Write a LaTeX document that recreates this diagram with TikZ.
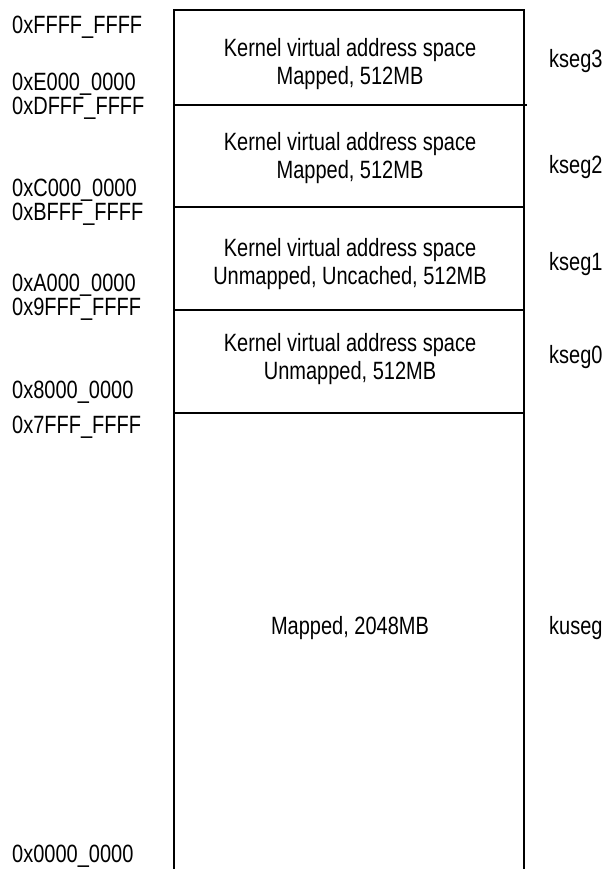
\documentclass[tikz,border=0pt]{standalone}
\usepackage{fontspec}
\setmainfont{Liberation Sans}[FakeStretch=0.8]
\begin{document}
\begin{tikzpicture}[x=1pt,y=-1pt,
  addr/.style={anchor=base west, inner sep=0pt, font=\fontsize{25}{28}\selectfont},
  seglbl/.style={anchor=base west, inner sep=0pt, font=\fontsize{25}{28}\selectfont},
  desc/.style={align=center, inner sep=0pt, font=\fontsize{25}{28}\selectfont},
  wall/.style={line width=2pt, line cap=rect}]
\useasboundingbox (0,0) rectangle (604,869);
% box corners and boundaries
\coordinate (tl) at (173.5,10);
\coordinate (tr) at (524,10);
\coordinate (bl) at (173.5,869);
\coordinate (br) at (524,869);
\coordinate (l1) at (173.5,105); \coordinate (r1) at (525.5,105);
\coordinate (l2) at (173.5,207); \coordinate (r2) at (524,207);
\coordinate (l3) at (173.5,310); \coordinate (r3) at (524,310);
\coordinate (l4) at (173.5,413); \coordinate (r4) at (524,413);
\draw[wall] (bl) -- (tl) -- (tr) -- (br);
\draw[wall] (l1) -- (r1);
\draw[wall] (l2) -- (r2);
\draw[wall] (l3) -- (r3);
\draw[wall] (l4) -- (r4);
% descriptions
\node[desc] (d3) at (350,64) {Kernel virtual address space\\Mapped, 512MB};
\node[desc] (d2) at (350,158) {Kernel virtual address space\\Mapped, 512MB};
\node[desc] (d1) at (350,264) {Kernel virtual address space\\Unmapped, Uncached, 512MB};
\node[desc] (d0) at (350,359) {Kernel virtual address space\\Unmapped, 512MB};
\node[anchor=base, inner sep=0pt, font=\fontsize{25}{28}\selectfont] (du) at (350,634) {Mapped, 2048MB};
% segment names
\node[seglbl] (k3) at (549,68) {kseg3};
\node[seglbl] (k2) at (549,174) {kseg2};
\node[seglbl] (k1) at (549,270) {kseg1};
\node[seglbl] (k0) at (549,363) {kseg0};
\node[seglbl] (ku) at (549,634) {kuseg};
% addresses
\node[addr] (a1) at (12,34) {0xFFFF\_FFFF};
\node[addr] (a2) at (12,90.5) {0xE000\_0000};
\node[addr] (a3) at (12,114.5) {0xDFFF\_FFFF};
\node[addr] (a4) at (12,196) {0xC000\_0000};
\node[addr] (a5) at (12,220) {0xBFFF\_FFFF};
\node[addr] (a6) at (12,291) {0xA000\_0000};
\node[addr] (a7) at (12,315) {0x9FFF\_FFFF};
\node[addr] (a8) at (12,398) {0x8000\_0000};
\node[addr] (a9) at (12,433) {0x7FFF\_FFFF};
\node[addr] (a10) at (12,862) {0x0000\_0000};
\end{tikzpicture}
\end{document}
